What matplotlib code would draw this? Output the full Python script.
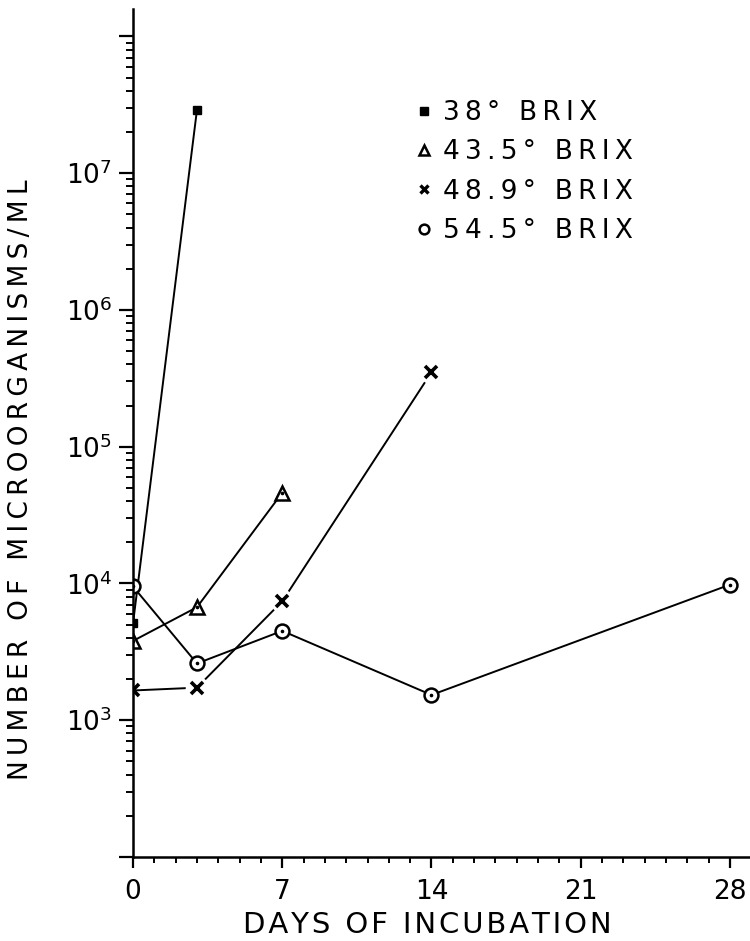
import matplotlib.pyplot as plt
from matplotlib.lines import Line2D
from matplotlib.ticker import LogLocator, NullFormatter, MultipleLocator

plt.rcParams['font.family'] = 'DejaVu Sans'
plt.rcParams['mathtext.default'] = 'regular'

# data (days, organisms/ml)
days_38 = [0, 3]
counts_38 = [5100, 2.9e7]
days_435 = [0, 3, 7]
counts_435 = [3800, 6700, 46000]
days_489 = [0, 3, 7, 14]
counts_489 = [1650, 1730, 7400, 350000]
days_545 = [0, 3, 7, 14, 28]
counts_545 = [9500, 2600, 4500, 1530, 9800]

legend_labels = ['38° BRIX', '43.5° BRIX', '48.9° BRIX', '54.5° BRIX']
x_ticks = [0, 7, 14, 21, 28]
y_major = [1e2, 1e3, 1e4, 1e5, 1e6, 1e7, 1e8]
y_labels = ['', '$10^{3}$', '$10^{4}$', '$10^{5}$', '$10^{6}$', '$10^{7}$', '']


def spaced(s, gap='\u2009'):
    # wide lettering like the stencil text of the original
    return gap.join(s)


fig = plt.figure(figsize=(7.5, 9.41), dpi=100)
ax = fig.add_axes([133 / 750, 1 - 857 / 941, 617 / 750, 848 / 941])
ax.set_yscale('log')
ax.set_xlim(0, 28.94)
ax.set_ylim(10 ** 2.015, 10 ** 8.2)

lw = 1.4
# 38 brix
ax.plot(days_38, counts_38, color='k', lw=lw, marker='s', ms=6, mfc='k', mec='k')
# 43.5 brix
ax.plot(days_435, counts_435, color='k', lw=lw, marker='^', ms=10, mfc='white', mec='k', mew=1.8)
ax.plot(days_435, counts_435, ls='none', marker='o', ms=1.6, color='k')
# 48.9 brix (lines stop short of the x marks)
ax.plot(days_489, counts_489, color='k', lw=lw)
ax.plot(days_489[1:], counts_489[1:], ls='none', marker='o', ms=17, mfc='white', mec='none')
ax.plot(days_489, counts_489, ls='none', marker='x', ms=8, mec='k', mew=2.6)
# 54.5 brix
ax.plot(days_545, counts_545, color='k', lw=lw, marker='o', ms=10, mfc='white', mec='k', mew=1.8)
ax.plot(days_545, counts_545, ls='none', marker='o', ms=1.6, color='k')

for side in ['top', 'right']:
    ax.spines[side].set_visible(False)
for side in ['left', 'bottom']:
    ax.spines[side].set_linewidth(1.8)

ax.set_yticks(y_major, labels=y_labels)
ax.yaxis.set_minor_locator(LogLocator(base=10, subs=range(2, 10), numticks=20))
ax.yaxis.set_minor_formatter(NullFormatter())
ax.set_xticks(x_ticks)
ax.xaxis.set_minor_locator(MultipleLocator(1))
ax.tick_params(axis='y', which='major', length=10, width=1.6, labelsize=19, pad=5)
ax.tick_params(axis='y', which='minor', length=5, width=1.4)
ax.tick_params(axis='x', which='major', length=8, width=1.6, labelsize=19, pad=8)
ax.tick_params(axis='x', which='minor', length=4, width=1.4)

fig.text(21 / 750, 1 - 480 / 941, spaced('NUMBER OF MICROORGANISMS/ML'), rotation=90,
         ha='center', va='center', fontsize=19)
fig.text(427 / 750, 1 - 925 / 941, spaced('DAYS OF INCUBATION', '\u200a'),
         ha='center', va='center', fontsize=21)

handles = [
    Line2D([], [], ls='none', marker='s', ms=6, color='k'),
    Line2D([], [], ls='none', marker='^', ms=7, mfc='white', mec='k', mew=1.8),
    Line2D([], [], ls='none', marker='x', ms=6, mec='k', mew=2.4),
    Line2D([], [], ls='none', marker='o', ms=7, mfc='white', mec='k', mew=1.8),
]
ax.legend(handles, [spaced(t) for t in legend_labels], loc='upper left',
          bbox_to_anchor=(0.4595, 0.8925), frameon=False, fontsize=19,
          handlelength=0.6, handletextpad=0.4, labelspacing=0.5,
          borderpad=0, borderaxespad=0)

fig.savefig('out.png', dpi=100)
